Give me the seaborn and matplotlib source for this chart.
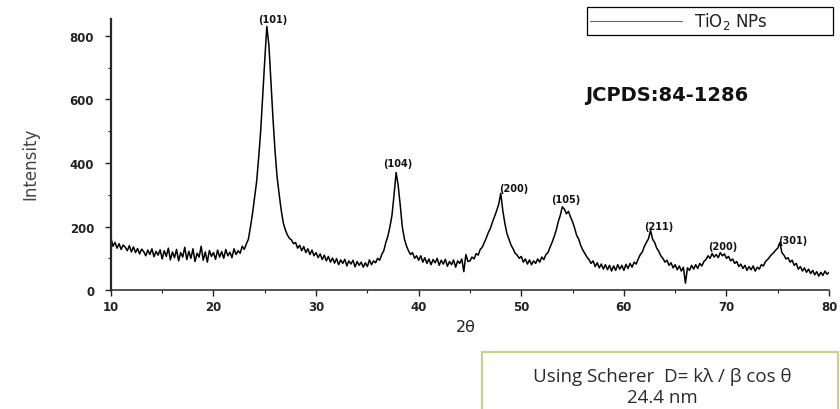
import numpy as np
import matplotlib
matplotlib.use("Agg")
import matplotlib.pyplot as plt
from matplotlib.patches import Rectangle
from matplotlib.ticker import MultipleLocator
import seaborn as sns

# XRD pattern, 0.2 degree steps from 10 to 80
two_theta = np.linspace(10, 80, 351)
intensity = [
    # 10-15
    165, 138, 150, 132, 146, 128, 142, 135, 124, 140, 120, 136, 118, 131, 114, 129, 121, 108, 126, 112, 130, 105, 122, 110, 127,
    # 15-20
    98, 124, 106, 132, 95, 120, 102, 128, 92, 118, 104, 135, 96, 122, 100, 130, 90, 116, 104, 138, 94, 120, 88, 125, 106,
    # 20-25
    118, 97, 126, 104, 121, 100, 128, 108, 119, 102, 130, 112, 124, 116, 138, 128, 145, 160, 198, 240, 290, 340, 415, 500, 615,
    # 25-30
    725, 830, 772, 655, 540, 438, 356, 302, 252, 212, 190, 174, 163, 158, 146, 150, 132, 141, 124, 137, 118, 130, 112, 126, 108,
    # 30-35
    118, 102, 114, 96, 110, 92, 106, 88, 101, 85, 99, 80, 95, 84, 97, 76, 92, 82, 94, 73, 90, 78, 88, 72, 86,
    # 35-40
    74, 95, 80, 92, 86, 100, 94, 112, 124, 150, 170, 200, 236, 300, 370, 330, 268, 200, 162, 140, 124, 112, 118, 100, 108,
    # 40-45
    94, 108, 88, 102, 84, 98, 80, 96, 86, 100, 78, 94, 82, 97, 75, 90, 80, 95, 72, 92, 84, 98, 58, 112, 90,
    # 45-50
    92, 104, 98, 115, 110, 128, 135, 150, 165, 182, 195, 215, 232, 250, 270, 305, 250, 210, 178, 160, 142, 130, 116, 110, 100,
    # 50-55
    106, 88, 98, 82, 95, 80, 92, 84, 98, 88, 104, 96, 112, 118, 135, 150, 168, 188, 215, 235, 262, 255, 240, 248, 230,
    # 55-60
    215, 195, 172, 160, 140, 126, 115, 104, 96, 84, 92, 74, 86, 70, 82, 66, 80, 64, 78, 60, 76, 62, 80, 66, 78,
    # 60-65
    62, 81, 68, 84, 72, 88, 82, 98, 112, 120, 138, 150, 162, 188, 160, 150, 132, 122, 108, 100, 88, 94, 78, 86, 70,
    # 65-70
    80, 64, 76, 60, 72, 22, 70, 62, 78, 66, 80, 68, 84, 76, 90, 96, 108, 100, 115, 104, 112, 102, 118, 108, 114,
    # 70-75
    100, 106, 92, 98, 84, 90, 74, 82, 68, 78, 62, 74, 64, 76, 60, 72, 66, 80, 76, 90, 96, 104, 112, 118, 126,
    # 75-80
    132, 150, 118, 110, 98, 102, 88, 94, 78, 84, 66, 74, 60, 70, 56, 66, 52, 62, 48, 58, 44, 56, 46, 60, 50, 56,
]
intensity = np.array(intensity)

peak_2theta = [25.2, 37.8, 48.0, 54.0, 62.6, 69.2, 75.2]
peak_hkl = ['(101)', '(104)', '(200)', '(105)', '(211)', '(200)', '(301)']
legend_label = r'TiO$_2$ NPs'
card_text = 'JCPDS:84-1286'
scherrer_lines = ['Using Scherer  D= kλ / β cos θ', '24.4 nm']

# label offsets from the peak top, in points
label_dx = [4.5, 1, 9, 2.7, 6.2, 3.4, 9.6]
label_dy = [5, 7, 4, 5.5, 3, 4.5, 2]

sns.set_style('ticks')
plt.rcParams['font.family'] = ['DejaVu Sans']

fig = plt.figure(figsize=(8.4, 4.1), dpi=100)
ax = fig.add_axes([0.132, 0.290, 0.855, 0.661])

sns.lineplot(x=two_theta, y=intensity, ax=ax, color='black', lw=1.1,
             estimator=None, label=legend_label)

ax.set_xlim(10, 80)
ax.set_ylim(0, 853)
ax.xaxis.set_major_locator(MultipleLocator(10))
ax.xaxis.set_minor_locator(MultipleLocator(5))
ax.yaxis.set_major_locator(MultipleLocator(200))
ax.yaxis.set_minor_locator(MultipleLocator(100))

sns.despine(ax=ax)
ax.spines['left'].set_linewidth(1.6)
ax.spines['bottom'].set_linewidth(1.1)
ax.tick_params(which='major', direction='out', length=4, width=1, labelsize=8.5, colors='#222')
ax.tick_params(which='minor', direction='out', length=2.5, width=0.8, colors='#222')
ax.tick_params(axis='y', which='major', pad=8)
ax.tick_params(axis='x', which='major', pad=3)
plt.setp(ax.get_xticklabels() + ax.get_yticklabels(), fontweight='bold')

ax.set_ylabel('Intensity', family=['Liberation Sans Narrow', 'DejaVu Sans'], fontsize=12, color='#444')
ax.yaxis.set_label_coords(-0.099, 0.469)
ax.set_xlabel('2θ', fontsize=11.5, color='#222')
ax.xaxis.set_label_coords(0.494, -0.105)

# hkl labels above each reflection
for p, hkl, dx, dy in zip(peak_2theta, peak_hkl, label_dx, label_dy):
    near = np.abs(two_theta - p) <= 0.6
    top = intensity[near].max()
    ax.annotate(hkl, (p, top), xytext=(dx, dy), textcoords='offset points',
                ha='center', va='center', fontsize=7, fontweight='bold', color='#111')

ax.text(64.2, 617, card_text, fontsize=14, fontweight='bold', ha='center', va='center', color='#111')

leg = ax.legend(loc='upper left', bbox_to_anchor=(587 / 840, 1 - 8 / 410, 246 / 840, 0),
                bbox_transform=fig.transFigure, mode='expand', borderaxespad=0,
                fontsize=12, handlelength=5.5, handletextpad=0.7, borderpad=0.2,
                fancybox=False, framealpha=1, edgecolor='black')
leg.get_frame().set_linewidth(0.9)
leg.get_lines()[0].set_color('#666')
leg.get_lines()[0].set_linewidth(0.8)
for t in leg.get_texts():
    t.set_color('#222')

# Scherrer result box at the bottom right
fig.add_artist(Rectangle((482 / 840, -0.05), 356 / 840, 0.189, transform=fig.transFigure,
                         facecolor='white', edgecolor='#c8d28a', lw=1.6, clip_on=False))
fig.text(0.788, 0.080, scherrer_lines[0], family=['Open Sans', 'DejaVu Sans'],
         fontsize=13.5, ha='center', va='center', color='#2a2a2a')
fig.text(0.788, 0.030, scherrer_lines[1], family=['Open Sans', 'DejaVu Sans'],
         fontsize=13.5, ha='center', va='center', color='#2a2a2a')

fig.savefig('out.png', dpi=100)
